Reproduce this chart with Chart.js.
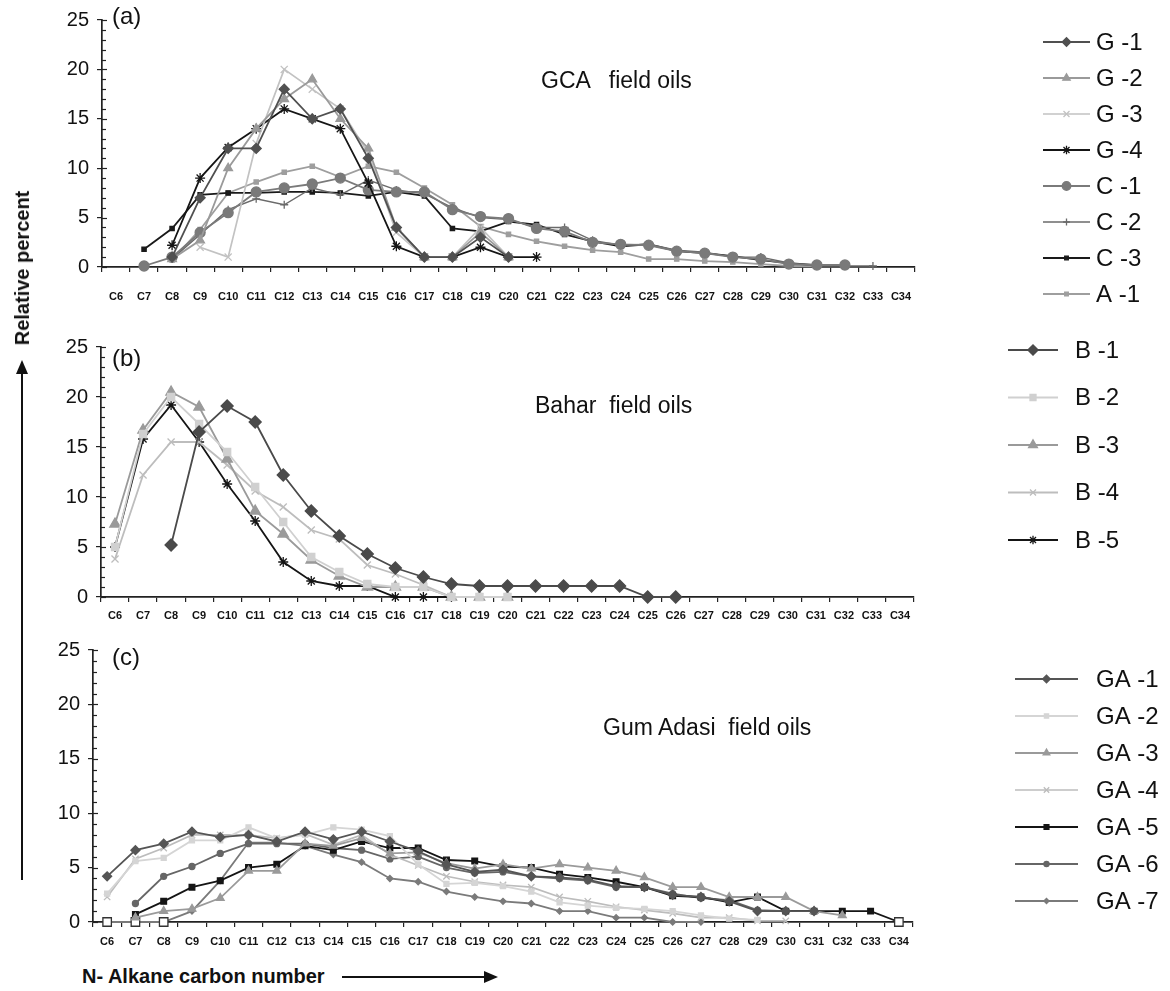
<!DOCTYPE html>
<html>
<head>
<meta charset="utf-8">
<script src="https://cdn.jsdelivr.net/npm/chart.js@4/dist/chart.umd.min.js"></script>
<style>
  body { margin: 0; background: #fff; font-family: "Liberation Sans", Arial, sans-serif; }
  #page { position: relative; width: 1170px; height: 991px; overflow: hidden; }
  canvas { position: absolute; left: 0; }
  .txt { position: absolute; white-space: pre; color: #111; line-height: 1; }
  .ptitle { font-size: 23px; }
  .plabel { font-size: 24px; }
  .axtitle { font-size: 20px; font-weight: bold; }
</style>
</head>
<body>
<div id="page">
  <canvas id="chartA" width="1170" height="310" style="top:0"></canvas>
  <canvas id="chartB" width="1170" height="310" style="top:320px"></canvas>
  <canvas id="chartC" width="1170" height="330" style="top:630px"></canvas>

  <div class="txt plabel" style="left:112px;top:4px">(a)</div>
  <div class="txt plabel" style="left:112px;top:346px">(b)</div>
  <div class="txt plabel" style="left:112px;top:645px">(c)</div>

  <div class="txt ptitle" style="left:541px;top:69px">GCA   field oils</div>
  <div class="txt ptitle" style="left:535px;top:394px">Bahar  field oils</div>
  <div class="txt ptitle" style="left:603px;top:716px">Gum Adasi  field oils</div>

  <div class="txt axtitle" style="left:22px;top:268px;transform:translate(-50%,-50%) rotate(-90deg)">Relative percent</div>
  <div style="position:absolute;left:21px;top:372px;width:2px;height:508px;background:#111"></div>
  <div style="position:absolute;left:16px;top:360px;width:0;height:0;border-left:6px solid transparent;border-right:6px solid transparent;border-bottom:14px solid #111"></div>

  <div class="txt axtitle" style="left:82px;top:966px">N- Alkane carbon number</div>
  <div style="position:absolute;left:342px;top:976px;width:146px;height:2px;background:#111"></div>
  <div style="position:absolute;left:484px;top:971px;width:0;height:0;border-top:6px solid transparent;border-bottom:6px solid transparent;border-left:14px solid #111"></div>
</div>
<script>
const carbonLabels = ['C6','C7','C8','C9','C10','C11','C12','C13','C14','C15','C16','C17','C18','C19','C20',
  'C21','C22','C23','C24','C25','C26','C27','C28','C29','C30','C31','C32','C33','C34'];
const yTicks = [0, 5, 10, 15, 20, 25];

// (a) GCA field oils, values from C6 onwards
const g1 = [null, null, 1.0, 7.0, 12.0, 12.0, 18.0, 15.0, 16.0, 11.0, 4.0, 1.0, 1.0, 3.0, 1.0];
const g2 = [null, null, 0.8, 2.7, 10.0, 14.0, 17.0, 19.0, 15.0, 12.0, 4.0, 1.0, 1.0, 3.5, 1.0];
const g3 = [null, null, null, 2.0, 1.0, 12.5, 20.0, 18.0, 16.0, 11.5, 3.5, 1.0, 1.0, 4.0, 1.0];
const g4 = [null, null, 2.2, 9.0, 12.1, 14.0, 16.0, 15.0, 14.0, 8.5, 2.1, 1.0, 1.0, 2.0, 1.0, 1.0];
const c1 = [null, 0.1, 1.0, 3.5, 5.5, 7.6, 8.0, 8.4, 9.0, 7.8, 7.6, 7.6, 5.8, 5.1, 4.9, 3.9, 3.6, 2.5, 2.3, 2.2, 1.6, 1.4, 1.0, 0.8, 0.3, 0.2, 0.2];
const c2 = [null, null, 0.8, 3.3, 5.8, 6.9, 6.3, 8.0, 7.3, 8.8, 7.8, 7.4, 6.0, 5.0, 4.8, 4.0, 4.0, 2.7, 2.2, 2.3, 1.7, 1.5, 1.0, 1.0, 0.4, 0.1, 0.1, 0.1];
const c3 = [null, 1.8, 3.9, 7.3, 7.5, 7.5, 7.6, 7.6, 7.5, 7.2, 7.6, 7.2, 3.9, 3.6, 4.6, 4.3, 3.3, 2.6, 2.1, 2.3, 1.6, 1.4, 1.1, 0.7, 0.4, 0.2];
const a1 = [null, null, 0.7, 3.8, 7.5, 8.6, 9.6, 10.2, 9.1, 10.2, 9.6, 8.0, 6.3, 4.1, 3.3, 2.6, 2.1, 1.7, 1.5, 0.8, 0.8, 0.6, 0.5, 0.3, 0.1, 0.1];

// (b) Bahar field oils
const b1 = [null, null, 5.2, 16.5, 19.1, 17.5, 12.2, 8.6, 6.1, 4.3, 2.9, 2.0, 1.3, 1.1, 1.1, 1.1, 1.1, 1.1, 1.1, 0, 0];
const b2 = [5.0, 16.3, 20.0, 17.3, 14.5, 11.0, 7.5, 4.0, 2.5, 1.3, 1.0, 1.0, 0, 0, 0];
const b3 = [7.3, 16.7, 20.5, 19.0, 13.8, 8.6, 6.3, 3.7, 2.1, 1.0, 1.0, 1.0, 0, 0, 0];
const b4 = [3.8, 12.2, 15.5, 15.5, 13.2, 10.6, 9.0, 6.7, 5.8, 3.2, 2.3, 1.2, 0, 0, 0];
const b5 = [5.0, 15.8, 19.2, 15.5, 11.3, 7.6, 3.5, 1.6, 1.1, 1.1, 0, 0, 0];

// (c) Gum Adasi field oils
const ga1 = [4.2, 6.6, 7.2, 8.3, 7.8, 8.0, 7.4, 8.3, 7.6, 8.3, 7.4, 6.5, 5.3, 4.6, 4.8, 4.2, 4.1, 3.9, 3.3, 3.2, 2.5, 2.3, 1.9, 1.0, 1.0, 1.0];
const ga2 = [2.6, 5.6, 5.9, 7.5, 7.5, 8.7, 7.7, 8.0, 8.7, 8.5, 7.9, 5.3, 3.5, 3.6, 3.3, 2.8, 1.8, 1.5, 1.3, 1.2, 1.0, 0.6, 0.3, 0.2];
const ga3 = [null, 0.4, 1.0, 1.2, 2.2, 4.7, 4.7, 7.2, 7.0, 7.7, 6.3, 6.4, 5.4, 4.9, 5.3, 4.9, 5.3, 5.0, 4.7, 4.1, 3.2, 3.2, 2.3, 2.3, 2.3, 1.0, 0.6];
const ga4 = [2.3, 5.8, 6.8, 8.0, 8.0, 8.0, 7.7, 8.1, 7.1, 8.0, 6.2, 5.2, 4.2, 3.7, 3.4, 3.2, 2.3, 1.9, 1.4, 1.1, 0.8, 0.4, 0.4, 0.1, 0.1];
const ga5 = [null, 0.7, 1.9, 3.2, 3.8, 5.0, 5.3, 7.0, 6.6, 7.4, 6.8, 6.8, 5.7, 5.6, 5.1, 5.0, 4.4, 4.1, 3.7, 3.2, 2.4, 2.3, 1.8, 2.3, 1.0, 1.0, 1.0, 1.0, 0];
const ga6 = [null, 1.7, 4.2, 5.1, 6.3, 7.2, 7.2, 7.2, 6.8, 6.6, 5.8, 6.0, 5.0, 4.5, 4.6, 4.2, 4.0, 3.8, 3.2, 3.2, 2.6, 2.2, 2.0, 1.1, 1.0, 1.0];
const ga7 = [0, 0, 0, 1.0, 3.8, 7.3, 7.3, 7.0, 6.2, 5.5, 4.0, 3.7, 2.8, 2.3, 1.9, 1.7, 1.0, 1.0, 0.4, 0.4, 0, 0];

function series(label, data, color, style, radius, width, openZero) {
  // openZero: zero values at the ends of the curve show as open squares, as in the print
  const isOpen = (ctx) => openZero && ctx.raw === 0 && (ctx.dataIndex < 3 || ctx.dataIndex === 28);
  return {
    label: label, data: data,
    borderColor: color, backgroundColor: color,
    borderWidth: width || 1.8,
    pointStyle: (ctx) => isOpen(ctx) ? 'rect' : style,
    pointRadius: (ctx) => isOpen(ctx) ? 6 : radius,
    pointHoverRadius: radius,
    pointBorderColor: (ctx) => isOpen(ctx) ? '#333' : color,
    pointBackgroundColor: (ctx) => isOpen(ctx) ? '#fff' : color,
    pointBorderWidth: 1.3,
    legendStyle: style, legendRadius: radius,
    clip: false,
    tension: 0, fill: false
  };
}

// minor ticks on the inside of the y axis, one per unit
const innerTicks = {
  id: 'innerTicks',
  afterDraw(chart) {
    const ys = chart.scales.y, ctx = chart.ctx;
    ctx.save();
    ctx.strokeStyle = '#222';
    ctx.lineWidth = 1.2;
    for (let v = 0; v <= 25; v++) {
      const y = Math.round(ys.getPixelForValue(v)) + 0.5;
      ctx.beginPath();
      ctx.moveTo(ys.right, y);
      ctx.lineTo(ys.right + (v % 5 === 0 ? 5 : 4), y);
      ctx.stroke();
    }
    ctx.restore();
  }
};

// legend on the right: a short line with the marker, then the name
const sideLegend = {
  id: 'sideLegend',
  afterDraw(chart, args, o) {
    const ctx = chart.ctx;
    ctx.save();
    chart.data.datasets.forEach((ds, i) => {
      const y = o.y0 + i * o.step;
      ctx.strokeStyle = ds.borderColor;
      ctx.fillStyle = ds.borderColor;
      ctx.lineWidth = ds.borderWidth;
      ctx.beginPath();
      ctx.moveTo(o.x1, y);
      ctx.lineTo(o.x2, y);
      ctx.stroke();
      ctx.lineWidth = ds.pointBorderWidth;
      Chart.helpers.drawPoint(ctx, {
        pointStyle: ds.legendStyle, radius: ds.legendRadius * 0.85, rotation: 0, borderWidth: ds.pointBorderWidth
      }, (o.x1 + o.x2) / 2, y);
      ctx.fillStyle = '#111';
      ctx.font = o.font;
      ctx.textBaseline = 'middle';
      ctx.textAlign = 'left';
      ctx.fillText(ds.label, o.textX, y + 1);
    });
    ctx.restore();
  }
};

function makeChart(id, datasets, L) {
  return new Chart(document.getElementById(id), {
    type: 'line',
    data: { labels: carbonLabels, datasets: datasets },
    plugins: [sideLegend, innerTicks],
    options: {
      responsive: false,
      animation: false,
      events: [],
      layout: { padding: { left: 0, right: 1170 - L.right, top: L.top, bottom: 0 } },
      plugins: {
        legend: { display: false },
        tooltip: { enabled: false },
        sideLegend: L.legend
      },
      scales: {
        x: {
          type: 'category',
          offset: true,
          afterFit: (s) => { s.height = L.xh; },
          grid: { offset: true, drawOnChartArea: false, drawTicks: true, tickLength: 5, color: '#222', lineWidth: 1.2 },
          border: { display: true, color: '#222', width: 1.7 },
          ticks: {
            autoSkip: false, maxRotation: 0, minRotation: 0, padding: L.xpad,
            color: '#111', font: { family: 'Liberation Sans', size: 11, weight: 'bold' }
          }
        },
        y: {
          min: 0, max: 25,
          afterFit: (s) => { s.width = L.left; },
          grid: { drawOnChartArea: false, drawTicks: true, tickLength: 5, color: '#222', lineWidth: 1.2 },
          border: { display: true, color: '#222', width: 1.7 },
          ticks: {
            stepSize: 5, autoSkip: false, padding: 8, color: '#111',
            font: { family: 'Liberation Sans', size: 20 },
            callback: (v) => yTicks.includes(v) ? String(v) : ''
          }
        }
      }
    }
  });
}

const legendFont = '24px "Liberation Sans", Arial';

makeChart('chartA', [
  series('G -1', g1, '#505050', 'rectRot', 5),
  series('G -2', g2, '#9a9a9a', 'triangle', 5),
  series('G -3', g3, '#c2c2c2', 'crossRot', 5, 1.7),
  series('G -4', g4, '#151515', 'star', 5),
  series('C -1', c1, '#7a7a7a', 'circle', 5),
  series('C -2', c2, '#6a6a6a', 'cross', 4, 1.4),
  series('C -3', c3, '#1a1a1a', 'rect', 3),
  series('A -1', a1, '#9e9e9e', 'rect', 3)
], { left: 102, right: 915, top: 15, xh: 43, xpad: 18,
     legend: { x1: 1043, x2: 1090, textX: 1096, y0: 42, step: 36, font: legendFont } });

makeChart('chartB', [
  series('B -1', b1, '#4a4a4a', 'rectRot', 6),
  series('B -2', b2, '#d0d0d0', 'rect', 5),
  series('B -3', b3, '#9a9a9a', 'triangle', 6),
  series('B -4', b4, '#bdbdbd', 'crossRot', 5),
  series('B -5', b5, '#151515', 'star', 5)
], { left: 101, right: 914, top: 27, xh: 33, xpad: 7,
     legend: { x1: 1008, x2: 1058, textX: 1075, y0: 30, step: 47.5, font: legendFont } });

makeChart('chartC', [
  series('GA -1', ga1, '#555555', 'rectRot', 4.5),
  series('GA -2', ga2, '#d5d5d5', 'rect', 3.5),
  series('GA -3', ga3, '#9a9a9a', 'triangle', 4.5),
  series('GA -4', ga4, '#bcbcbc', 'crossRot', 4.5, 1.7),
  series('GA -5', ga5, '#151515', 'rect', 4, 1.8, true),
  series('GA -6', ga6, '#666666', 'circle', 3),
  series('GA -7', ga7, '#7a7a7a', 'rectRot', 3, 1.8, true)
], { left: 93, right: 913, top: 17, xh: 38, xpad: 8,
     legend: { x1: 1015, x2: 1078, textX: 1096, y0: 49, step: 37, font: legendFont } });
</script>
</body>
</html>
